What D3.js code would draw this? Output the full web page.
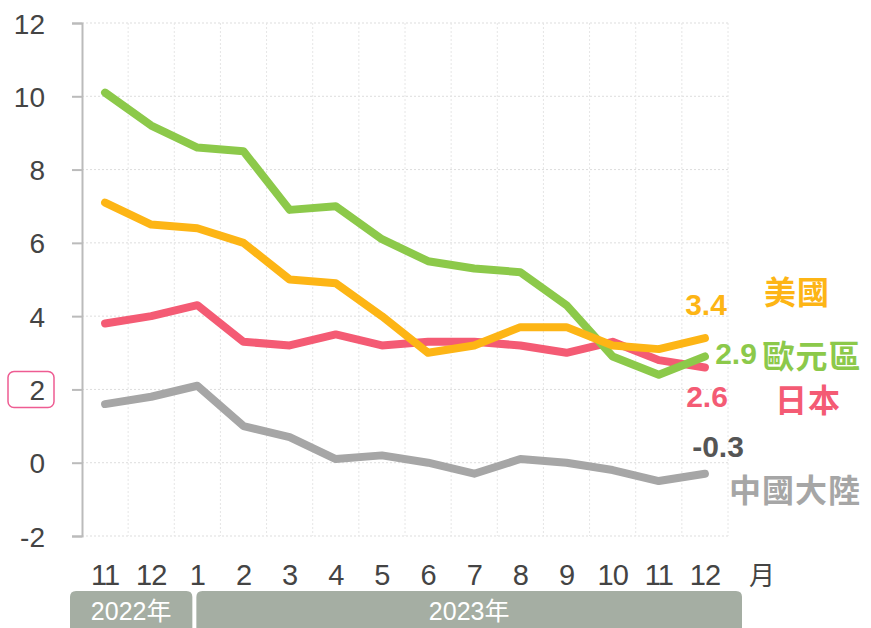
<!DOCTYPE html>
<html>
<head>
<meta charset="utf-8">
<script src="https://cdn.jsdelivr.net/npm/d3@7"></script>
<style>
  body { margin: 0; background: #fff; }
  text { font-family: "Noto Sans CJK TC", "Liberation Sans", Arial, sans-serif; }
</style>
</head>
<body>
<div id="chart"></div>
<script>
const months = ['11', '12', '1', '2', '3', '4', '5', '6', '7', '8', '9', '10', '11', '12'];
const yTicks = [-2, 0, 2, 4, 6, 8, 10, 12];
const usa = [7.1, 6.5, 6.4, 6.0, 5.0, 4.9, 4.0, 3.0, 3.2, 3.7, 3.7, 3.2, 3.1, 3.4];
const euro = [10.1, 9.2, 8.6, 8.5, 6.9, 7.0, 6.1, 5.5, 5.3, 5.2, 4.3, 2.9, 2.4, 2.9];
const japan = [3.8, 4.0, 4.3, 3.3, 3.2, 3.5, 3.2, 3.3, 3.3, 3.2, 3.0, 3.3, 2.8, 2.6];
const china = [1.6, 1.8, 2.1, 1.0, 0.7, 0.1, 0.2, 0.0, -0.3, 0.1, 0.0, -0.2, -0.5, -0.3];
const years = [{ label: '2022年', from: 0, to: 1 }, { label: '2023年', from: 2, to: 13 }];

const series = [
  { name: '中國大陸', values: china, color: '#a6a6a6', valColor: '#555555', vx: 718, vy: 457, nx: 795, ny: 502 },
  { name: '日本', values: japan, color: '#f45b74', valColor: '#f45b74', vx: 707, vy: 407, nx: 808, ny: 412 },
  { name: '歐元區', values: euro, color: '#8cc94a', valColor: '#8cc94a', vx: 736, vy: 364, nx: 812, ny: 368 },
  { name: '美國', values: usa, color: '#fdb515', valColor: '#fdb515', vx: 706, vy: 315, nx: 797, ny: 304 }
];

const width = 871, height = 628;
const margin = { left: 82, right: 143, top: 23, bottom: 92 };

const svg = d3.select('#chart').append('svg')
  .attr('width', width)
  .attr('height', height);

const x = d3.scaleBand()
  .domain(d3.range(months.length))
  .range([margin.left, width - margin.right]);

const y = d3.scaleLinear()
  .domain([-2, 12])
  .range([height - margin.bottom, margin.top]);

// grid
const grid = svg.append('g');
grid.selectAll('.hgrid')
  .data(yTicks)
  .enter().append('line')
  .attr('x1', margin.left)
  .attr('x2', width - margin.right)
  .attr('y1', d => y(d))
  .attr('y2', d => y(d))
  .attr('stroke', '#dddddd')
  .attr('stroke-dasharray', '2,2');

grid.selectAll('.vgrid')
  .data(d3.range(1, months.length + 1))
  .enter().append('line')
  .attr('x1', d => margin.left + d * x.step())
  .attr('x2', d => margin.left + d * x.step())
  .attr('y1', y(12))
  .attr('y2', y(-2))
  .attr('stroke', '#e6e6e6')
  .attr('stroke-dasharray', '2,2');

// y axis
const yAxis = svg.append('g')
  .attr('transform', `translate(${margin.left},0)`)
  .call(d3.axisLeft(y).tickValues(yTicks).tickSize(10).tickPadding(27).tickFormat(d => String(d)));
yAxis.select('.domain').attr('stroke', '#bbbbbb').attr('stroke-width', 2);
yAxis.selectAll('.tick line').attr('stroke', '#bbbbbb').attr('stroke-width', 2);
yAxis.selectAll('.tick text')
  .attr('fill', '#444')
  .attr('dy', '0.36em')
  .style('font-family', '"Liberation Sans", Arial, sans-serif')
  .style('font-size', '28px');

// highlighted box around "2"
svg.append('rect')
  .attr('x', 8).attr('y', y(2) - 18)
  .attr('width', 46).attr('height', 36)
  .attr('rx', 6)
  .attr('fill', 'none')
  .attr('stroke', '#ee5c92')
  .attr('stroke-width', 1.5);

// x labels
svg.append('g')
  .selectAll('text')
  .data(months)
  .enter().append('text')
  .attr('x', (d, i) => x(i) + x.bandwidth() / 2)
  .attr('y', 585)
  .attr('text-anchor', 'middle')
  .attr('fill', '#444')
  .style('font-family', '"Liberation Sans", Arial, sans-serif')
  .style('font-size', '29px')
  .style('letter-spacing', '-1px')
  .text(d => d);

svg.append('text')
  .attr('x', 762).attr('y', 585)
  .attr('text-anchor', 'middle')
  .attr('fill', '#444')
  .style('font-size', '26px')
  .text('月');

// year bands
const yb = svg.append('g').selectAll('g').data(years).enter().append('g');
const bandX0 = d => d.from === 0 ? x(0) - 12 : x(d.from) + x.bandwidth() / 2 - 1;
const bandX1 = d => d.to === months.length - 1 ? x(d.to) + x.bandwidth() + 14 : x(d.to + 1) + x.bandwidth() / 2 - 5;
yb.append('path')
  .attr('d', d => {
    const x0 = bandX0(d), x1 = bandX1(d);
    const top = 591, bot = 632, r = 6;
    return `M${x0},${bot}V${top + r}Q${x0},${top} ${x0 + r},${top}H${x1 - r}Q${x1},${top} ${x1},${top + r}V${bot}Z`;
  })
  .attr('fill', '#a5aea3');
yb.append('text')
  .attr('x', d => (bandX0(d) + bandX1(d)) / 2)
  .attr('y', 620)
  .attr('text-anchor', 'middle')
  .attr('fill', '#fff')
  .style('font-family', '"Liberation Sans", "Noto Sans CJK TC", sans-serif')
  .style('font-size', '25px')
  .text(d => d.label);

// lines
const line = d3.line()
  .x((d, i) => x(i) + x.bandwidth() / 2)
  .y(d => y(d));

svg.append('g')
  .selectAll('path')
  .data(series)
  .enter().append('path')
  .attr('d', d => line(d.values))
  .attr('fill', 'none')
  .attr('stroke', d => d.color)
  .attr('stroke-width', 8)
  .attr('stroke-linecap', 'round')
  .attr('stroke-linejoin', 'round');

// end labels
const lab = svg.append('g').selectAll('g').data(series).enter().append('g');
lab.append('text')
  .attr('x', d => d.vx)
  .attr('y', d => d.vy)
  .attr('text-anchor', 'middle')
  .attr('fill', d => d.valColor)
  .style('font-family', '"Liberation Sans", Arial, sans-serif')
  .style('font-weight', 'bold')
  .style('font-size', '30px')
  .text(d => d3.format('.1f')(d.values[d.values.length - 1]).replace('−', '-'));
lab.append('text')
  .attr('x', d => d.nx)
  .attr('y', d => d.ny)
  .attr('text-anchor', 'middle')
  .attr('fill', d => d.color)
  .style('font-weight', 'bold')
  .style('font-size', '32px')
  .style('letter-spacing', '1px')
  .text(d => d.name);
</script>
</body>
</html>
